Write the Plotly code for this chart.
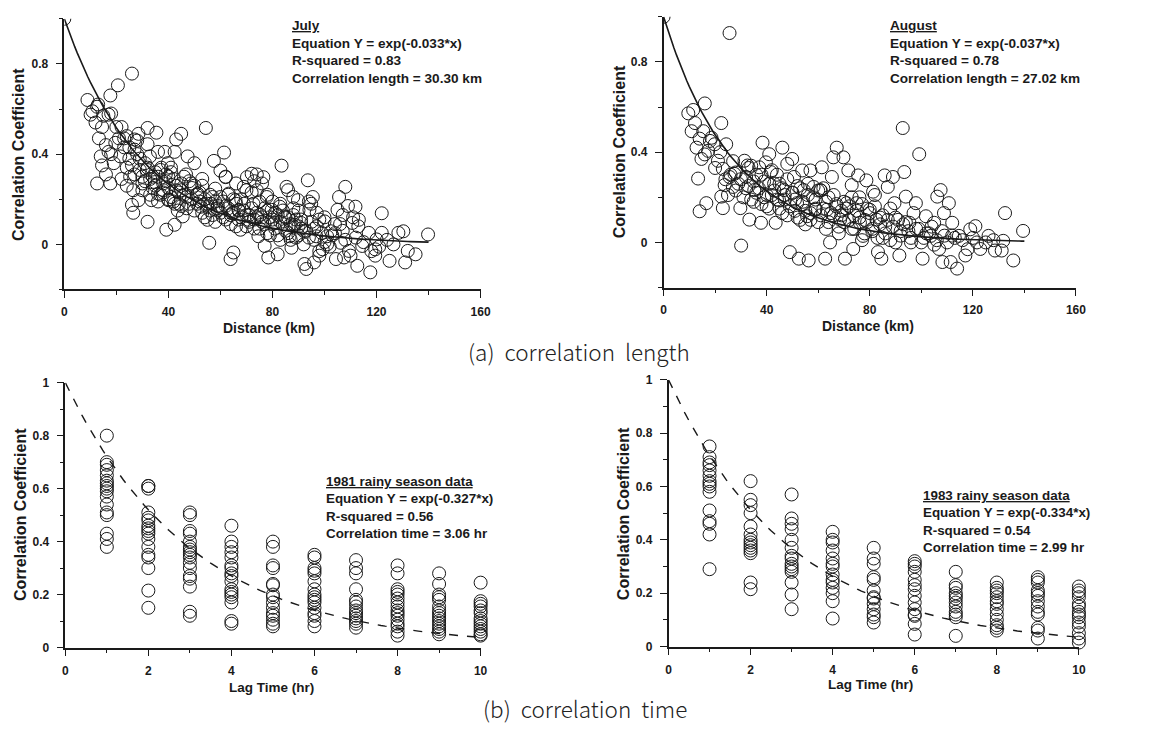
import math
import plotly.graph_objects as go

# ---------------- DATA ----------------
# (a) July: distance (km) vs correlation coefficient
july_x = [0, 8.9, 10.8, 12.6, 10.1, 12, 14.5, 13.3, 17, 17.7, 20.6, 26, 14, 14.5, 12.6, 16, 17.7, 17, 19.6, 21.5,
          22, 23, 25, 27, 28.5, 24, 25.3, 26.5, 26, 26.5, 28.5, 30, 31.7, 32, 32, 32.9, 32, 33.5, 35.4, 36,
          34.8, 37.3, 38.6, 39.8, 41, 42.4, 43, 44.9, 39.2, 42.4, 36, 38, 40, 40, 42.4, 43.6, 45, 45.5, 46.8, 47.4,
          48.7, 50, 51.2, 52.5, 53, 54.4, 55, 55.7, 56.3, 57.5, 58, 58.8, 60, 61.4, 62, 63.2, 63.9, 65, 64.5, 65.8,
          67, 67.7, 69, 70.2, 70.8, 72, 72.7, 74, 74.6, 75.3, 76.5, 77, 77.8, 78.4, 79.7, 80.9, 82, 83.5, 82.8, 84.7,
          85.4, 86.6, 87.3, 88, 88.5, 89.8, 91, 92.3, 93, 93.6, 94.2, 94.9, 95.5, 96, 96.8, 98, 99.3, 100, 101, 102.5,
          104.4, 105, 105.6, 106.3, 107.5, 108, 109.4, 110.7, 111.9, 112.6, 113.2, 114.5, 117, 117.6, 119.5, 119.5, 120, 122, 122, 125,
          126.5, 128.4, 130.3, 131, 132, 135, 139.8,
          28, 29, 30, 31, 33, 34, 35, 36, 37, 38, 39, 40, 41, 42, 43, 44, 45, 46, 47, 48,
          49, 50, 51, 52, 53, 54, 55, 56, 57, 58, 59, 60, 61, 62, 63, 64, 65, 66, 67, 68,
          69, 70, 71, 72, 73, 74, 75, 76, 77, 78, 79, 80, 81, 82, 83, 84, 85, 86, 87, 88,
          89, 90, 91, 92, 93, 95, 96, 97, 98, 99, 100, 102, 103, 106, 108, 110, 112, 115, 118, 121, 124,
          16, 18, 19, 21, 22, 23, 24, 25, 27, 28, 20, 15, 13, 18, 24,
          62, 66, 70, 73, 74, 76, 78, 80, 83, 86, 88, 90, 94, 97, 100, 104, 107, 109, 111, 113]
july_y = [1.0, 0.64, 0.59, 0.61, 0.575, 0.54, 0.52, 0.47, 0.575, 0.66, 0.705, 0.757, 0.39, 0.35, 0.27, 0.31, 0.27, 0.41, 0.45, 0.39,
          0.52, 0.47, 0.43, 0.465, 0.49, 0.26, 0.30, 0.24, 0.175, 0.14, 0.196, 0.27, 0.33, 0.516, 0.444, 0.39, 0.10, 0.196, 0.495, 0.41,
          0.276, 0.34, 0.41, 0.36, 0.34, 0.41, 0.465, 0.49, 0.065, 0.087, 0.225, 0.24, 0.30, 0.196, 0.18, 0.15, 0.24, 0.124, 0.31, 0.39,
          0.27, 0.36, 0.225, 0.167, 0.29, 0.516, 0.109, 0.007, 0.18, 0.37, 0.247, 0.16, 0.327, 0.407, 0.298, 0.225, -0.065, -0.036, 0.138, 0.196,
          0.153, 0.065, 0.255, 0.298, 0.109, 0.313, 0.18, 0.24, 0.036, 0.131, 0.298, -0.007, 0.21, -0.058, 0.153, 0.095, -0.044, 0.349, 0.167, 0.124,
          0.255, 0.036, -0.015, 0.21, 0.087, 0.196, 0.095, -0.087, -0.109, 0.284, 0.153, 0.18, 0.21, -0.08, 0.036, -0.05, -0.022, 0.102, 0.036, 0.058,
          -0.065, 0.153, 0.21, 0.007, -0.058, 0.255, -0.029, 0.095, 0.167, -0.095, 0.109, -0.007, 0.051, -0.124, -0.022, -0.05, 0.022, 0.138, 0.051, -0.073,
          0.0, 0.051, 0.058, -0.08, -0.029, -0.044, 0.044,
          0.40, 0.33, 0.30, 0.36, 0.29, 0.25, 0.32, 0.30, 0.22, 0.27, 0.31, 0.25, 0.21, 0.29, 0.24, 0.18, 0.27, 0.22, 0.16, 0.28,
          0.20, 0.26, 0.18, 0.23, 0.14, 0.20, 0.17, 0.22, 0.13, 0.19, 0.15, 0.21, 0.12, 0.17, 0.22, 0.09, 0.14, 0.18, 0.11, 0.20,
          0.15, 0.08, 0.13, 0.23, 0.07, 0.12, 0.19, 0.10, 0.16, 0.05, 0.12, 0.09, 0.14, 0.04, 0.10, 0.15, 0.06, 0.12, 0.02, 0.08,
          0.11, 0.04, 0.07, 0.00, 0.06, 0.10, 0.02, 0.08, -0.03, 0.05, 0.01, -0.01, 0.04, 0.09, 0.02, -0.05, 0.03, 0.01, -0.03, -0.01, 0.02,
          0.44, 0.40, 0.36, 0.47, 0.29, 0.43, 0.34, 0.38, 0.31, 0.46, 0.52, 0.57, 0.62, 0.58, 0.48,
          0.30, 0.27, 0.24, 0.28, 0.31, 0.27, 0.22, 0.19, 0.18, 0.24, 0.16, 0.15, 0.19, 0.14, 0.12, 0.09, 0.13, 0.17, 0.12, 0.08]
# July, extra points in the dense band
july_x2 = [26, 27, 29, 30, 31, 32, 33, 34, 35, 36, 37, 38, 39, 40, 41, 42, 43, 44, 45, 46,
           47, 48, 49, 50, 51, 52, 53, 54, 55, 56, 57, 58, 59, 60, 61, 62, 63, 64, 65, 66,
           67, 68, 69, 70, 71, 72, 73, 74, 75, 76, 77, 78, 79, 80, 81, 82, 83, 84, 85, 86,
           87, 88, 89, 90, 91, 92, 94, 96, 98, 101, 104, 107]
july_y2 = [0.35, 0.42, 0.38, 0.24, 0.28, 0.34, 0.22, 0.30, 0.26, 0.19, 0.33, 0.23, 0.28, 0.20, 0.32, 0.19, 0.26, 0.23, 0.17, 0.30,
           0.21, 0.18, 0.25, 0.15, 0.22, 0.19, 0.26, 0.12, 0.18, 0.15, 0.21, 0.10, 0.17, 0.14, 0.19, 0.11, 0.16, 0.13, 0.20, 0.08,
           0.15, 0.12, 0.18, 0.13, 0.10, 0.16, 0.11, 0.14, 0.07, 0.12, 0.09, 0.15, 0.04, 0.11, 0.07, 0.13, 0.02, 0.09, 0.12, 0.05,
           0.09, 0.13, 0.03, 0.08, 0.11, 0.06, 0.03, 0.07, 0.11, 0.00, 0.05, 0.06]

# (a) August
aug_x = [0, 25.6, 9.6, 11.5, 12.2, 10.9, 15.4, 16, 12.8, 14.7, 17.3, 18.6, 19.8, 13.4, 14, 16.6, 22.4, 24.3, 21.1, 23,
         23.7, 22.4, 23, 25.6, 26.9, 27.5, 29.8, 30.1, 31.4, 32.6, 33.3, 35.2, 37.1, 38.4, 37.8, 39.7, 41, 41.6, 42.9, 43.5,
         44.8, 46.1, 46.7, 48, 49, 49.9, 50.6, 51.8, 52.5, 53.8, 54.4, 55.7, 56.3, 57, 58.2, 58.9, 60.8, 61.4, 62.7, 63.4,
         64.6, 65.3, 65.9, 67.2, 68.5, 69.8, 70.4, 71, 71.7, 73, 73.6, 74.9, 75.5, 76.2, 77.4, 78.7, 80, 81.3, 82.6, 83.2,
         84.5, 85.8, 87, 89, 89.6, 91.5, 92.8, 93.4, 94, 95.4, 97.9, 99.2, 100.5, 101.8, 103.7, 105, 106.2, 106.9, 107.5, 108.2,
         108.8, 110.7, 111.4, 112, 113.9, 114.6, 117.1, 119, 121, 121.6, 122.9, 126.1, 128.6, 131.2, 132.5, 131.8, 135.7, 139.5,
         30, 32, 33, 34, 35, 36, 38, 39, 40, 41, 42, 44, 45, 46, 47, 48, 50, 51, 52, 53,
         54, 55, 56, 57, 59, 60, 61, 62, 63, 64, 66, 67, 68, 69, 70, 72, 73, 74, 76, 77,
         78, 79, 81, 82, 84, 85, 86, 88, 90, 91, 92, 94, 96, 97, 98, 100, 102, 104, 106, 108,
         110, 112, 116, 118, 120, 125, 128,
         20, 22, 24, 26, 27, 28, 25, 18, 16, 14]
aug_y = [1.0, 0.928, 0.572, 0.587, 0.529, 0.493, 0.493, 0.616, 0.42, 0.37, 0.406, 0.464, 0.435, 0.283, 0.138, 0.174, 0.529, 0.435, 0.362, 0.326,
         0.254, 0.203, 0.152, 0.29, 0.246, 0.304, 0.152, -0.014, 0.362, 0.341, 0.101, 0.232, 0.333, 0.442, 0.087, 0.355, 0.391, 0.312, 0.261, 0.087,
         0.188, 0.42, 0.232, 0.348, -0.043, 0.37, 0.29, 0.174, -0.072, 0.319, 0.232, 0.116, -0.08, 0.319, 0.246, 0.145, 0.232, 0.333, -0.072, 0.145,
         0.0, 0.29, 0.377, 0.42, 0.101, 0.377, -0.072, 0.174, 0.319, 0.254, -0.029, 0.174, 0.297, 0.087, 0.029, 0.275, 0.145, 0.225, 0.101, -0.043,
         -0.072, 0.297, 0.246, 0.29, 0.174, -0.058, 0.507, 0.312, 0.203, 0.087, 0.174, 0.391, -0.072, 0.116, 0.029, 0.087, 0.203, -0.029, 0.232, -0.087,
         0.13, 0.174, -0.087, 0.087, -0.116, 0.029, -0.058, 0.058, 0.072, 0.0, -0.029, 0.029, -0.036, -0.036, 0.13, 0.007, -0.08, 0.051,
         0.28, 0.24, 0.33, 0.19, 0.27, 0.22, 0.30, 0.20, 0.16, 0.26, 0.21, 0.30, 0.15, 0.24, 0.19, 0.12, 0.22, 0.14, 0.25, 0.10,
         0.18, 0.08, 0.21, 0.13, 0.19, 0.09, 0.23, 0.15, 0.06, 0.20, 0.12, 0.17, 0.04, 0.14, 0.09, 0.16, 0.06, 0.12, 0.20, 0.01,
         0.10, 0.15, 0.05, 0.21, 0.11, 0.02, 0.07, 0.15, 0.00, 0.10, 0.05, 0.09, 0.02, 0.13, 0.06, 0.00, 0.04, 0.07, 0.01, 0.05,
         0.00, 0.03, 0.01, -0.03, 0.02, 0.00, 0.01,
         0.33, 0.40, 0.28, 0.30, 0.36, 0.23, 0.21, 0.45, 0.39, 0.46]
# August, extra points in the dense band
aug_x2 = [28, 29, 31, 32, 33, 34, 35, 36, 37, 38, 39, 40, 41, 42, 43, 44, 45, 46, 47, 48,
          49, 50, 51, 52, 53, 54, 55, 56, 57, 58, 59, 60, 61, 62, 63, 64, 65, 66, 67, 68,
          69, 70, 71, 72, 73, 74, 75, 76, 77, 78, 79, 80, 81, 82, 83, 84, 85, 86, 87, 88,
          89, 90, 92, 93, 95, 96, 99, 101, 103, 105, 109, 113]
aug_y2 = [0.31, 0.26, 0.20, 0.29, 0.25, 0.34, 0.18, 0.30, 0.24, 0.17, 0.27, 0.21, 0.15, 0.32, 0.23, 0.19, 0.26, 0.13, 0.21, 0.28,
          0.16, 0.22, 0.19, 0.11, 0.24, 0.17, 0.14, 0.26, 0.10, 0.20, 0.15, 0.23, 0.12, 0.24, 0.18, 0.09, 0.13, 0.21, 0.16, 0.07,
          0.12, 0.18, 0.15, 0.10, 0.20, 0.06, 0.14, 0.11, 0.17, 0.04, 0.09, 0.13, 0.06, 0.16, 0.02, 0.08, 0.12, 0.04, 0.10, 0.01,
          0.07, 0.11, 0.03, 0.08, 0.05, 0.00, 0.06, 0.02, 0.04, -0.01, 0.03, 0.02]

# (b) 1981 rainy season: lag time (hr) -> correlation coefficients
lags = [1, 2, 3, 4, 5, 6, 7, 8, 9, 10]
r1981 = [
    [0.80, 0.70, 0.69, 0.67, 0.65, 0.63, 0.62, 0.61, 0.60, 0.59, 0.57, 0.54, 0.51, 0.50, 0.43, 0.41, 0.38],
    [0.61, 0.61, 0.60, 0.51, 0.49, 0.48, 0.46, 0.45, 0.44, 0.43, 0.41, 0.38, 0.35, 0.34, 0.30, 0.215, 0.15],
    [0.51, 0.50, 0.44, 0.43, 0.40, 0.38, 0.37, 0.36, 0.35, 0.34, 0.32, 0.30, 0.27, 0.26, 0.23, 0.135, 0.12],
    [0.46, 0.40, 0.38, 0.36, 0.34, 0.31, 0.30, 0.28, 0.27, 0.25, 0.22, 0.21, 0.20, 0.19, 0.17, 0.10, 0.09],
    [0.40, 0.38, 0.31, 0.30, 0.24, 0.235, 0.20, 0.19, 0.17, 0.15, 0.13, 0.12, 0.105, 0.09, 0.08],
    [0.35, 0.34, 0.30, 0.29, 0.28, 0.25, 0.22, 0.20, 0.19, 0.18, 0.17, 0.15, 0.13, 0.12, 0.10, 0.08],
    [0.33, 0.30, 0.28, 0.22, 0.18, 0.17, 0.155, 0.14, 0.13, 0.12, 0.11, 0.10, 0.09, 0.075],
    [0.31, 0.28, 0.22, 0.21, 0.20, 0.185, 0.17, 0.155, 0.14, 0.13, 0.12, 0.105, 0.09, 0.08, 0.06, 0.045],
    [0.28, 0.24, 0.20, 0.19, 0.18, 0.155, 0.14, 0.13, 0.12, 0.11, 0.10, 0.09, 0.08, 0.07, 0.06, 0.05],
    [0.245, 0.175, 0.165, 0.155, 0.14, 0.13, 0.11, 0.10, 0.09, 0.08, 0.07, 0.06, 0.05, 0.045],
]
# (b) 1983 rainy season
r1983 = [
    [0.75, 0.71, 0.69, 0.68, 0.66, 0.64, 0.62, 0.61, 0.60, 0.58, 0.51, 0.47, 0.46, 0.42, 0.29],
    [0.62, 0.55, 0.53, 0.50, 0.45, 0.42, 0.40, 0.39, 0.38, 0.37, 0.36, 0.35, 0.24, 0.215],
    [0.57, 0.48, 0.46, 0.44, 0.40, 0.37, 0.34, 0.33, 0.31, 0.30, 0.29, 0.28, 0.24, 0.195, 0.14],
    [0.43, 0.40, 0.39, 0.36, 0.33, 0.31, 0.30, 0.27, 0.25, 0.24, 0.22, 0.20, 0.17, 0.105],
    [0.37, 0.33, 0.31, 0.26, 0.25, 0.21, 0.185, 0.18, 0.16, 0.14, 0.12, 0.11, 0.09],
    [0.32, 0.31, 0.30, 0.28, 0.25, 0.23, 0.215, 0.19, 0.165, 0.14, 0.12, 0.115, 0.085, 0.045],
    [0.28, 0.23, 0.22, 0.20, 0.19, 0.18, 0.165, 0.15, 0.13, 0.12, 0.11, 0.04],
    [0.24, 0.22, 0.21, 0.20, 0.185, 0.17, 0.16, 0.14, 0.12, 0.10, 0.08, 0.07, 0.06],
    [0.26, 0.25, 0.24, 0.21, 0.20, 0.19, 0.17, 0.15, 0.13, 0.12, 0.07, 0.06, 0.03],
    [0.225, 0.21, 0.20, 0.185, 0.16, 0.15, 0.13, 0.12, 0.11, 0.09, 0.075, 0.05, 0.03, 0.015],
]

# Fitted decay coefficients (from the equations printed on the chart)
k_july, k_aug, k_1981, k_1983 = 0.033, 0.037, 0.327, 0.334

# ---------------- FIGURE ----------------
FONT = "Liberation Sans, Arial, sans-serif"
INK = "#1a1a1a"

def fit_curve(k, xmax, n):
    xs = [xmax * i / n for i in range(n + 1)]
    return xs, [math.exp(-k * x) for x in xs]

def flatten(groups):
    xs, ys = [], []
    for lag, vals in zip(lags, groups):
        xs += [lag] * len(vals)
        ys += vals
    return xs, ys

def pairs(xa, ya, xb, yb):
    n1, n2 = min(len(xa), len(ya)), min(len(xb), len(yb))
    return list(xa[:n1]) + list(xb[:n2]), list(ya[:n1]) + list(yb[:n2])

marker = dict(symbol="circle-open", size=13, color=INK, line=dict(width=1, color=INK))

fig = go.Figure()
jx, jy = pairs(july_x, july_y, july_x2, july_y2)
ax_, ay_ = pairs(aug_x, aug_y, aug_x2, aug_y2)
for xa, ya, xs, ys, k in [("x", "y", jx, jy, k_july), ("x2", "y2", ax_, ay_, k_aug)]:
    fig.add_trace(go.Scatter(x=xs, y=ys, mode="markers", marker=marker, xaxis=xa, yaxis=ya, showlegend=False))
    cx, cy = fit_curve(k, 140, 140)
    fig.add_trace(go.Scatter(x=cx, y=cy, mode="lines", line=dict(color=INK, width=1.6),
                             xaxis=xa, yaxis=ya, showlegend=False))

for xa, ya, groups, k in [("x3", "y3", r1981, k_1981), ("x4", "y4", r1983, k_1983)]:
    xs, ys = flatten(groups)
    fig.add_trace(go.Scatter(x=xs, y=ys, mode="markers", marker=marker, xaxis=xa, yaxis=ya,
                             showlegend=False, cliponaxis=False))
    cx, cy = fit_curve(k, 10, 100)
    fig.add_trace(go.Scatter(x=cx, y=cy, mode="lines", line=dict(color=INK, width=1.4, dash="dash"),
                             xaxis=xa, yaxis=ya, showlegend=False))

W, H = 1167, 733
def px_x(p): return p / W
def px_y(p): return 1 - p / H

tickfont = dict(family=FONT, size=12, color=INK, weight="bold")
common = dict(showline=True, linecolor=INK, linewidth=1.5, ticks="outside", ticklen=7, tickwidth=1.2,
              tickcolor=INK, showgrid=False, zeroline=False, tickfont=tickfont, fixedrange=True)

def minor(dt):
    return dict(ticks="outside", ticklen=4, tickmode="linear", tick0=0, dtick=dt, tickcolor=INK, tickwidth=1)

def xaxis_top(dom, anchor):
    return dict(common, domain=dom, anchor=anchor, range=[0, 160], tickmode="array",
                tickvals=[0, 40, 80, 120, 160], ticktext=["0", "40", "80", "120", "160"],
                minor=minor(20), ticklabelstandoff=3)

def yaxis_top(dom, anchor):
    return dict(common, domain=dom, anchor=anchor, range=[-0.2, 1.0], tickmode="array",
                tickvals=[0, 0.4, 0.8], ticktext=["0", "0.4", "0.8"],
                minor=minor(0.2), ticklabelstandoff=5)

def xaxis_bot(dom, anchor):
    return dict(common, domain=dom, anchor=anchor, range=[0, 10], tickmode="array",
                tickvals=[0, 2, 4, 6, 8, 10], ticktext=["0", "2", "4", "6", "8", "10"],
                minor=minor(1), ticklabelstandoff=4)

def yaxis_bot(dom, anchor):
    return dict(common, domain=dom, anchor=anchor, range=[0, 1.0], tickmode="array",
                tickvals=[0, 0.2, 0.4, 0.6, 0.8, 1.0], ticktext=["0", "0.2", "0.4", "0.6", "0.8", "1"],
                minor=minor(0.1), ticklabelstandoff=5)

fig.update_layout(
    width=W, height=H, margin=dict(l=0, r=0, t=0, b=0),
    paper_bgcolor="white", plot_bgcolor="white",
    font=dict(family=FONT, color=INK),
    xaxis=xaxis_top([px_x(62), px_x(483)], "y"),
    yaxis=yaxis_top([px_y(288), px_y(12)], "x"),
    xaxis2=xaxis_top([px_x(668), px_x(1085)], "y2"),
    yaxis2=yaxis_top([px_y(286), px_y(10)], "x2"),
    xaxis3=xaxis_bot([px_x(63), px_x(483)], "y3"),
    yaxis3=yaxis_bot([px_y(653), px_y(383)], "x3"),
    xaxis4=xaxis_bot([px_x(673), px_x(1088)], "y4"),
    yaxis4=yaxis_bot([px_y(652), px_y(380)], "x4"),
)

bold = dict(family=FONT, size=13, color=INK, weight="bold")
ann = []
# axis titles
for x, y, t, s in [(269, 327, "Distance (km)", 14), (875, 325, "Distance (km)", 14),
                   (272, 694, "Lag Time (hr)", 13.5), (877, 691, "Lag Time (hr)", 13.5)]:
    ann.append(dict(x=px_x(x), y=px_y(y), xref="paper", yref="paper", text=t, showarrow=False,
                    font=dict(bold, size=s), xanchor="center", yanchor="middle"))
for x, y in [(15, 150), (623, 148), (17, 517), (627, 517)]:
    ann.append(dict(x=px_x(x), y=px_y(y), xref="paper", yref="paper", text="Correlation Coefficient",
                    showarrow=False, textangle=-90, font=dict(bold, size=16),
                    xanchor="center", yanchor="middle"))
# equation boxes
boxes = [
    (290, 9, "<u>July</u><br>Equation Y = exp(-0.033*x)<br>R-squared = 0.83<br>Correlation length = 30.30 km", 13.6),
    (895, 9, "<u>August</u><br>Equation Y = exp(-0.037*x)<br>R-squared = 0.78<br>Correlation length = 27.02 km", 13.6),
    (325, 474, "<u>1981 rainy season data</u><br>Equation Y = exp(-0.327*x)<br>R-squared = 0.56<br>Correlation time = 3.06 hr", 13.4),
    (928, 488, "<u>1983 rainy season data</u><br>Equation Y = exp(-0.334*x)<br>R-squared = 0.54<br>Correlation time = 2.99 hr", 13.4),
]
for x, y, t, s in boxes:
    ann.append(dict(x=px_x(x), y=px_y(y), xref="paper", yref="paper", text=t, showarrow=False, align="left",
                    xanchor="left", yanchor="top", font=dict(bold, size=s)))
# captions
for x, y, t in [(582, 351, "(a)  correlation  length"), (589, 715, "(b)  correlation  time")]:
    ann.append(dict(x=px_x(x), y=px_y(y), xref="paper", yref="paper", text=t, showarrow=False,
                    xanchor="center", yanchor="middle",
                    font=dict(family="Noto Sans CJK KR, Noto Sans, sans-serif", size=22.5, color="#222", weight=300)))
fig.update_layout(annotations=ann)

fig.write_html("out.html", config={"displayModeBar": False},
               post_script="document.body.style.margin='0px';")
